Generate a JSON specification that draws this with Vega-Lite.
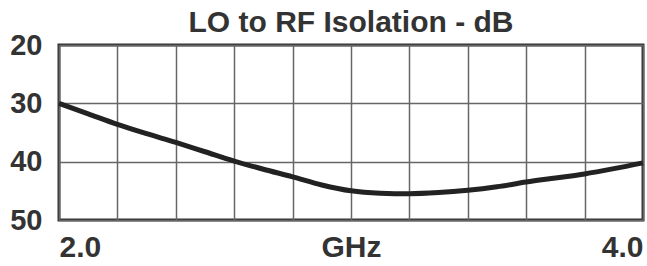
{
  "$schema": "https://vega.github.io/schema/vega-lite/v6.json",
  "width": 584,
  "height": 175,
  "autosize": "none",
  "padding": {"left": 59, "top": 45, "right": 4, "bottom": 46},
  "background": "white",
  "title": {
    "text": "LO to RF Isolation - dB",
    "font": "Liberation Sans",
    "fontWeight": "bold",
    "fontSize": 30,
    "color": "#333333",
    "anchor": "middle",
    "baseline": "alphabetic",
    "offset": -5,
    "dy": 26
  },
  "config": {
    "view": {"stroke": "#333333", "strokeWidth": 3},
    "axis": {
      "labelFont": "Liberation Sans",
      "labelFontWeight": "bold",
      "labelColor": "#333333",
      "domain": false,
      "ticks": false,
      "gridColor": "#666666",
      "gridWidth": 1.5,
      "gridOpacity": 1,
      "title": null
    }
  },
  "data": {
    "values": [
      {"f": 2.0, "iso": 30.0},
      {"f": 2.1, "iso": 31.8},
      {"f": 2.2, "iso": 33.6},
      {"f": 2.3, "iso": 35.2},
      {"f": 2.4, "iso": 36.7},
      {"f": 2.5, "iso": 38.3},
      {"f": 2.6, "iso": 39.9},
      {"f": 2.7, "iso": 41.3},
      {"f": 2.8, "iso": 42.6},
      {"f": 2.9, "iso": 44.0},
      {"f": 3.0, "iso": 45.0},
      {"f": 3.1, "iso": 45.4},
      {"f": 3.2, "iso": 45.5},
      {"f": 3.3, "iso": 45.3},
      {"f": 3.4, "iso": 44.9},
      {"f": 3.5, "iso": 44.3},
      {"f": 3.6, "iso": 43.5},
      {"f": 3.7, "iso": 42.8},
      {"f": 3.8, "iso": 42.1},
      {"f": 3.9, "iso": 41.2},
      {"f": 4.0, "iso": 40.2}
    ]
  },
  "mark": {"type": "line", "interpolate": "monotone", "strokeWidth": 5, "color": "#222222"},
  "encoding": {
    "x": {
      "field": "f",
      "type": "quantitative",
      "scale": {"domain": [2, 4], "nice": false, "zero": false},
      "axis": {
        "values": [2.0, 2.2, 2.4, 2.6, 2.8, 3.0, 3.2, 3.4, 3.6, 3.8, 4.0],
        "labelExpr": "datum.value == 2 ? '2.0' : datum.value == 4 ? '4.0' : abs(datum.value - 3) < 0.01 ? 'GHz' : ''",
        "labelFlush": true,
        "labelOverlap": false,
        "labelFontSize": 30,
        "labelPadding": 12
      }
    },
    "y": {
      "field": "iso",
      "type": "quantitative",
      "scale": {"domain": [20, 50], "reverse": true, "nice": false, "zero": false},
      "axis": {
        "values": [20, 30, 40, 50],
        "labelFontSize": 29,
        "labelPadding": 17,
        "labelBaseline": "middle"
      }
    }
  }
}
